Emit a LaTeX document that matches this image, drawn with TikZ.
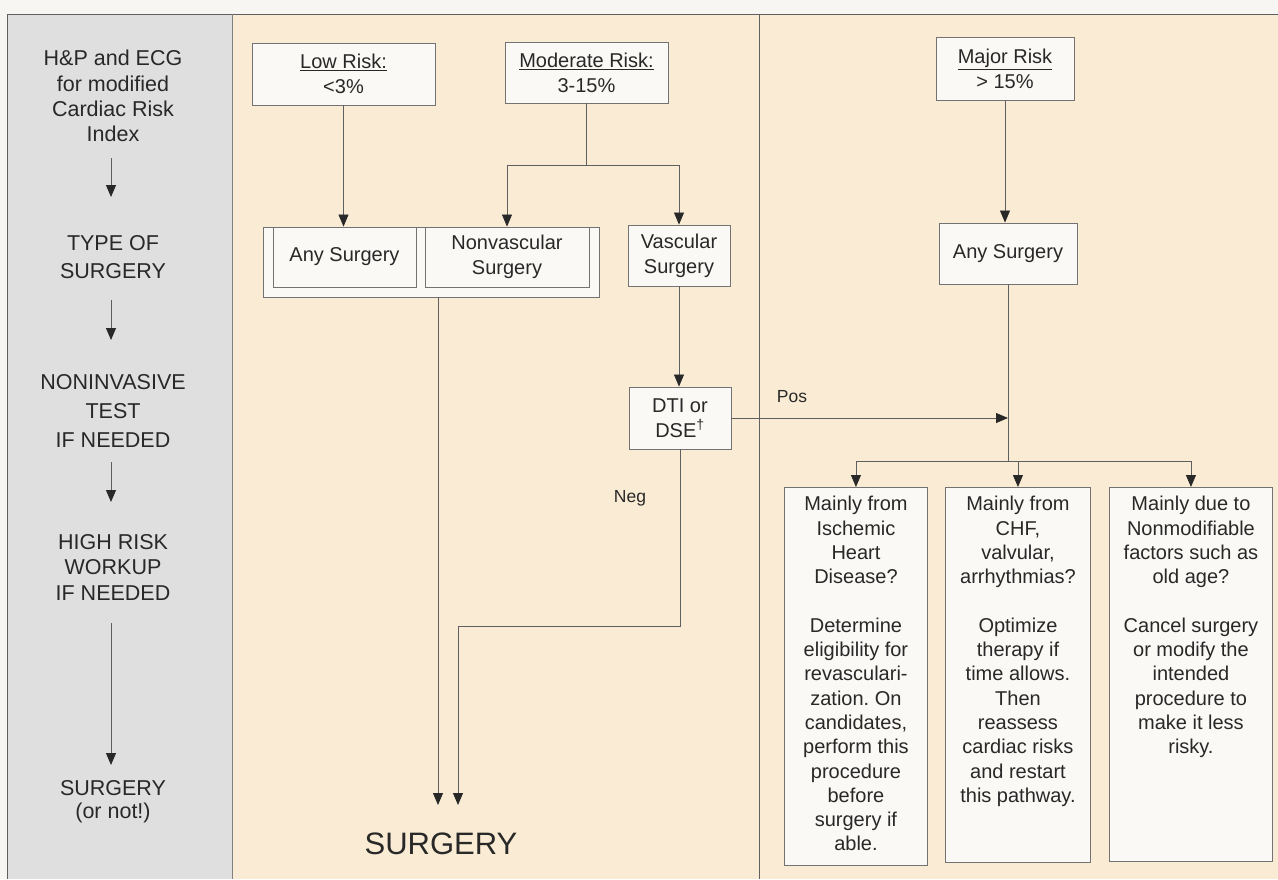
\documentclass[tikz,border=0pt]{standalone}
\usepackage{fontspec}
\setmainfont{Liberation Sans}
\usetikzlibrary{arrows.meta,calc}
\definecolor{beige}{RGB}{250,236,212}
\definecolor{panel}{RGB}{223,223,223}
\definecolor{paper}{RGB}{247,246,242}
\definecolor{ink}{RGB}{40,40,40}
\definecolor{linec}{RGB}{95,95,95}
\definecolor{boxfill}{RGB}{250,249,246}
\definecolor{boxline}{RGB}{115,115,115}
\frenchspacing
\begin{document}
\begin{tikzpicture}[x=1pt,y=-1pt,
  every node/.style={text=ink},
  box/.style={draw=boxline, fill=boxfill, line width=0.9pt, align=center, inner sep=0pt,
    font=\fontsize{20}{25}\selectfont},
  boxtext/.style={align=center, inner sep=0pt, anchor=north, font=\fontsize{20}{24.3}\selectfont},
  side/.style={align=center, inner sep=0pt, anchor=north},
  lbl/.style={inner sep=0pt, font=\fontsize{17.5}{20}\selectfont},
  conn/.style={draw=linec, line width=0.8pt},
  arr/.style={conn, -{Triangle[length=12pt,width=10pt,color=ink]}},
]
\useasboundingbox (0,0) rectangle (1278,879);
% backgrounds
\fill[paper] (0,0) rectangle (1278,879);
\fill[beige] (232,14) rectangle (1278,879);
\fill[panel] (7,14) rectangle (232,879);
\draw[linec, line width=1pt] (7,879) -- (7,14) -- (1278,14);
\draw[gray, line width=0.8pt] (232,14) -- (232,879);
\draw[linec, line width=0.8pt] (759,14) -- (759,879);

% left panel
\node[side, font=\fontsize{21.5}{25.3}\selectfont] (s1) at (113,50) {H\&P and ECG\\for modified\\Cardiac Risk\\Index};
\node[side, font=\fontsize{21.5}{28.5}\selectfont] (s2) at (113,235) {TYPE OF\\SURGERY};
\node[side, font=\fontsize{21.5}{29}\selectfont] (s3) at (113,374) {NONINVASIVE\\TEST\\IF NEEDED};
\node[side, font=\fontsize{21.5}{25.5}\selectfont] (s4) at (113,534) {HIGH RISK\\WORKUP\\IF NEEDED};
\node[side, font=\fontsize{21.5}{23}\selectfont] (s5) at (113,780) {SURGERY\\(or not!)};
\coordinate (p1a) at (111,158); \coordinate (p1b) at (111,197);
\coordinate (p2a) at (111,300); \coordinate (p2b) at (111,340);
\coordinate (p3a) at (111,462); \coordinate (p3b) at (111,502);
\coordinate (p4a) at (111,623); \coordinate (p4b) at (111,765);
\draw[arr] (p1a) -- (p1b);
\draw[arr] (p2a) -- (p2b);
\draw[arr] (p3a) -- (p3b);
\draw[arr] (p4a) -- (p4b);

% top boxes
\node[box, minimum width=183pt, minimum height=62pt] (low) at (343.5,74) {\underline{Low Risk:}\\<3\%};
\node[box, minimum width=163pt, minimum height=61pt] (mod) at (586.5,72.5) {\underline{Moderate Risk:}\\3-15\%};
\node[box, minimum width=138pt, minimum height=63pt] (maj) at (1005,68.5) {\underline{Major Risk}\\> 15\%};

% surgery type boxes
\node[box, minimum width=336pt, minimum height=70pt] (grp) at (431,262) {};
\node[box, minimum width=143pt, minimum height=60pt] (any1) at (344.5,257) {Any Surgery};
\node[box, minimum width=164pt, minimum height=60pt] (nonv) at (507,257) {Nonvascular\\Surgery};
\node[box, minimum width=102pt, minimum height=61pt] (vasc) at (679,255.5) {Vascular\\Surgery};
\node[box, minimum width=138pt, minimum height=61pt] (any2) at (1008,253.5) {Any Surgery};

% test box
\node[box, minimum width=102pt, minimum height=62pt] (dti) at (680,418) {DTI or\\DSE\textsuperscript{\textdagger}};

% workup boxes
\node[box, minimum width=143pt, minimum height=378pt, anchor=north west] (b1) at (784,487) {};
\node[box, minimum width=145pt, minimum height=375pt, anchor=north west] (b2) at (945,487) {};
\node[box, minimum width=163pt, minimum height=374pt, anchor=north west] (b3) at (1109,487) {};
\node[boxtext] (b1t) at ($(b1.north)+(0,9)$) {Mainly from\\Ischemic\\Heart\\Disease?\\[24.3pt]Determine\\eligibility for\\revasculari-\\zation. On\\candidates,\\perform this\\procedure\\before\\surgery if\\able.};
\node[boxtext] (b2t) at ($(b2.north)+(0,9)$) {Mainly from\\CHF,\\valvular,\\arrhythmias?\\[24.3pt]Optimize\\therapy if\\time allows.\\Then\\reassess\\cardiac risks\\and restart\\this pathway.};
\node[boxtext] (b3t) at ($(b3.north)+(0,9)$) {Mainly due to\\Nonmodifiable\\factors such as\\old age?\\[24.3pt]Cancel surgery\\or modify the\\intended\\procedure to\\make it less\\risky.};

% final target
\node[inner sep=0pt, anchor=base, font=\fontsize{31}{36}\selectfont] (surg) at (441,854) {SURGERY};
\coordinate (t1) at (438,805);
\coordinate (t2) at (458,805);

% labels
\node[lbl] (pos) at (792,397) {Pos};
\node[lbl] (neg) at (630,498) {Neg};

% connectors
\draw[arr] (low.south) -- (low.south |- grp.north);
\coordinate (msplit) at ($(mod.south)+(0,62)$);
\draw[conn] (mod.south) -- (msplit);
\draw[arr] (msplit) -| (nonv.north);
\draw[arr] (msplit) -| (vasc.north);
\draw[arr] (vasc.south) -- (vasc.south |- dti.north);
\draw[arr] (grp.south -| t1) -- (t1);
\coordinate (negturn) at ($(dti.south)+(0,177)$);
\draw[arr] (dti.south) -- (negturn) -| (t2);
\draw[arr] (maj.south) -- (maj.south |- any2.north);
\coordinate (br) at ($(any2.south)+(0,177)$);
\draw[conn] (any2.south) -- (br);
\draw[arr] (dti.east) -- (dti.east -| any2.south);
\draw[conn] (b1.north |- br) -- (b3.north |- br);
\draw[arr] (b1.north |- br) -- (b1.north);
\draw[arr] (b2.north |- br) -- (b2.north);
\draw[arr] (b3.north |- br) -- (b3.north);
\end{tikzpicture}
\end{document}
